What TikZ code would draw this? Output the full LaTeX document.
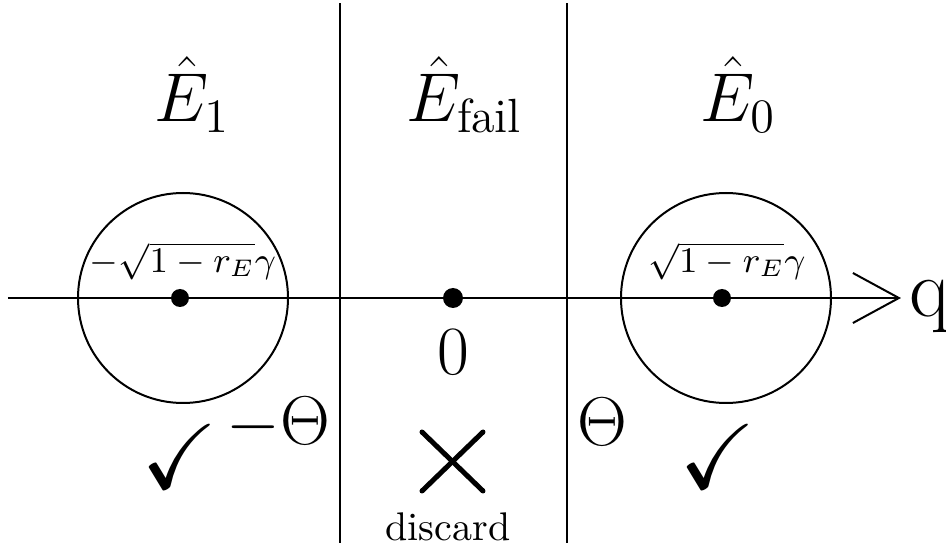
\documentclass[tikz,border=0pt]{standalone}
\usepackage{amsmath,amssymb}
\usepackage{xcolor}
\usetikzlibrary{arrows.meta,positioning,calc}

\begin{document}
\begin{tikzpicture}[
  x=0.25pt, y=-0.25pt,
  thin line/.style={line width=0.5pt},
  dot/.style={circle, fill=black, inner sep=0pt, minimum size=4.5pt},
  region/.style={circle, draw, line width=0.5pt, inner sep=0pt, minimum size=52.5pt},
  big/.style={font=\LARGE, inner sep=0pt, anchor=base},
  small/.style={font=\normalsize, inner sep=0pt, anchor=base},
  tick/.style={font=\fontsize{23}{26}\selectfont, inner sep=0pt},
  arr/.style={-{Straight Barb[length=11.5pt, width=12.5pt]}, line width=0.5pt}
]
\useasboundingbox (0,0) rectangle (946,546);

% acceptance regions and outcomes
\node[region] (c1) at (183,298) {};
\node[region] (c0) at (726,298) {};
\node[dot] (m1) at (180,298) {};
\node[dot, minimum size=5pt] (mf) at (453,298) {};
\node[dot] (m0) at (722,298) {};

% axis
\coordinate (qstart) at (8,298);
\coordinate (qend) at (901,298);
\draw[arr] (qstart) -- (qend);
\node[font=\huge, inner sep=0pt, anchor=west, right=2pt of qend, yshift=-2pt] (q) {q};

% thresholds
\coordinate (tl top) at (340,3);
\coordinate (tl bot) at (340,543);
\coordinate (tr top) at (567,3);
\coordinate (tr bot) at (567,543);
\draw[thin line] (tl top) -- (tl bot);
\draw[thin line] (tr top) -- (tr bot);

% labels
\node[big] (e1) at (192,122) {$\hat{E}_1$};
\node[big] (ef) at (465,122) {$\hat{E}_{\text{fail}}$};
\node[big] (e0) at (738,122) {$\hat{E}_0$};
\node[small, font=\small] (mu1) at (183,273) {$-\sqrt{1-r_E}\gamma$};
\node[small, font=\small] (mu0) at (727,273) {$\sqrt{1-r_E}\gamma$};
\node[big] (zero) at (453,375) {$0$};
\node[big] (thl) at (278,445) {$-\Theta$};
\node[big] (thr) at (602,446) {$\Theta$};
\node[tick] (ok1) at (180,457) {$\checkmark$};
\node[tick] (ok0) at (718,457) {$\checkmark$};

% discard cross
\coordinate (xa) at (422,432);
\coordinate (xb) at (483,491);
\coordinate (xc) at (422,491);
\coordinate (xd) at (483,432);
\draw[line width=1.25pt, line cap=round] (xa) -- (xb);
\draw[line width=1.25pt, line cap=round] (xc) -- (xd);
\node[small] (disc) at (448,541) {discard};
\end{tikzpicture}
\end{document}
